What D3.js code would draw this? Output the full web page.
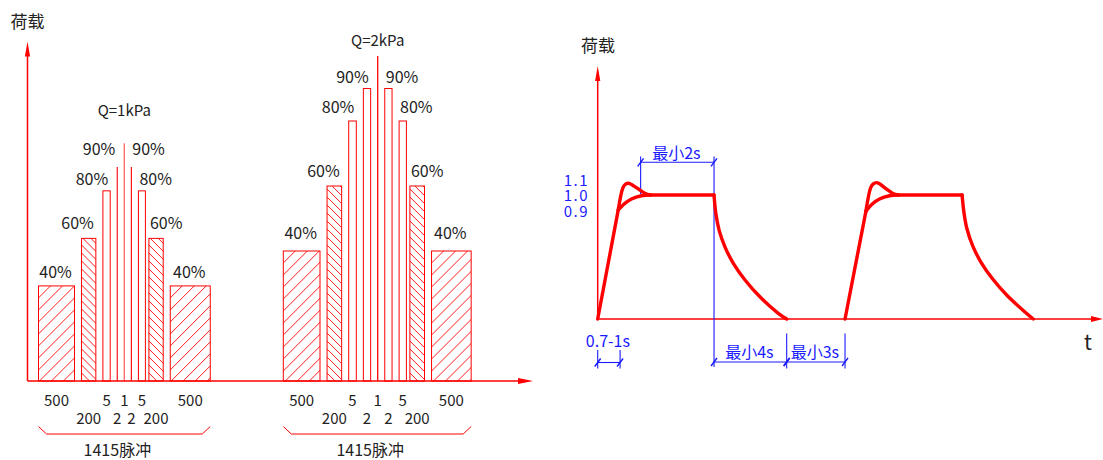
<!DOCTYPE html>
<html>
<head>
<meta charset="utf-8">
<script src="https://cdn.jsdelivr.net/npm/d3@7"></script>
<style>
  body { margin: 0; background: #fff; }
  svg text { font-family: "Noto Sans CJK SC", "Noto Sans", sans-serif; fill: #222; }
  svg text.blue { fill: #1a1aff; }
</style>
</head>
<body>
<svg id="chart" width="1103" height="460"></svg>
<script>
// ---- left chart: pulse load spectrum ----
const PULSES = [500, 200, 5, 2, 1, 2, 5, 200, 500];
const LEVELS = [40, 60, 80, 90, 100, 90, 80, 60, 40];
const GROUP_Q = ['Q=1kPa', 'Q=2kPa'];
const PULSE_TOTAL = '1415脉冲';
const Y_TITLE = '荷载';

// ---- right chart: load history (t in s, load relative to Q) ----
const RAMP_1 = [[0, 0], [0.56, 0.88]];
const OVERSHOOT_1 = [[0.56, 0.88], [0.69, 1.06], [0.76, 1.088], [0.84, 1.095], [0.92, 1.085], [1.1, 1.05], [1.3, 1.012], [1.43, 1.0]];
const SMOOTH_1 = [[0.56, 0.88], [0.74, 0.933], [0.92, 0.968], [1.19, 0.994], [1.43, 1.0]];
const HOLD_1 = [[1.43, 1.0], [3.17, 1.0]];
const DECAY_1 = [[3.17, 1.0], [3.22, 0.85], [3.31, 0.715], [3.47, 0.58], [3.7, 0.447], [4.02, 0.313], [4.42, 0.179], [4.92, 0.046], [5.15, 0]];

const RAMP_2 = [[6.74, 0], [7.31, 0.87]];
const OVERSHOOT_2 = [[7.31, 0.87], [7.44, 1.06], [7.51, 1.09], [7.6, 1.1], [7.68, 1.09], [7.86, 1.05], [8.06, 1.01], [8.19, 1.0]];
const SMOOTH_2 = [[7.31, 0.87], [7.49, 0.93], [7.68, 0.968], [7.95, 0.994], [8.19, 1.0]];
const HOLD_2 = [[8.19, 1.0], [9.93, 1.0]];
const DECAY_2 = [[9.93, 1.0], [9.98, 0.86], [10.06, 0.73], [10.22, 0.59], [10.45, 0.455], [10.77, 0.32], [11.17, 0.185], [11.65, 0.055], [11.87, 0]];

const LOAD_TICKS = [1.1, 1.0, 0.9];
const DIM_LABELS = ['最小2s', '0.7-1s', '最小4s', '最小3s'];
const DIM_FROM = [1.17, 0, 3.17, 5.15];
const DIM_TO = [3.17, 0.61, 5.15, 6.74];
const T_LABEL = 't';

const RED = '#ff0000';
const BLUE = '#1a1aff';
const svg = d3.select('#chart');
const defs = svg.append('defs');

function arrow(g, tip, dir, len, half) {
  const [x, y] = tip;
  const pts = dir === 'up'
    ? [[x, y], [x - half, y + len], [x + half, y + len]]
    : [[x, y], [x - len, y - half], [x - len, y + half]];
  g.append('path').attr('d', 'M' + pts.join('L') + 'Z').attr('fill', RED);
}

// ================= left chart =================
const BASE_L = 381;
const AXIS_X_L = 27.5;
const left = svg.append('g');

left.append('line').attr('x1', AXIS_X_L).attr('x2', AXIS_X_L).attr('y1', BASE_L).attr('y2', 52)
  .attr('stroke', RED).attr('stroke-width', 1.5);
arrow(left, [AXIS_X_L, 41.5], 'up', 15, 2.6);
left.append('line').attr('x1', AXIS_X_L).attr('x2', 522).attr('y1', BASE_L).attr('y2', BASE_L)
  .attr('stroke', RED).attr('stroke-width', 1.5);
arrow(left, [533, BASE_L], 'right', 15, 3);
left.append('text').attr('x', 27.5).attr('y', 28).attr('text-anchor', 'middle')
  .attr('font-size', 17).text(Y_TITLE);

const GROUP_X = [38.5, 283.3];
const PEAK_H = [237.7, 325];
const BAR_W = [[36, 14.3, 7.3, 0, 0, 0, 7, 14.3, 40], [36.7, 14.6, 7.6, 7.3, 0, 7.3, 7.3, 14.6, 39.6]];
const LABEL_GAP = [{40: 8, 60: 9, 80: 6, 90: 12}, {40: 12, 60: 9, 80: 8, 90: 6}];
const Q_GAP = [27, 10];
const HATCH_STEP = { 500: 12, 200: 8 };

GROUP_Q.forEach((q, g) => {
  const y = d3.scaleLinear().domain([0, 100]).range([BASE_L, BASE_L - PEAK_H[g]]);
  let cur = GROUP_X[g];
  const bars = PULSES.map((p, i) => {
    const w = BAR_W[g][i];
    const b = { p, v: LEVELS[i], i, x0: cur, x1: cur + w, w };
    cur += w + (i === 6 ? 3.5 : 7.05);
    return b;
  });
  const gg = left.append('g');

  // hatching, clipped to each hatched bar
  bars.filter(b => HATCH_STEP[b.p]).forEach(b => {
    const id = `clip-${g}-${b.i}`;
    const top = y(b.v), h = BASE_L - top;
    defs.append('clipPath').attr('id', id).append('rect')
      .attr('x', b.x0).attr('y', top).attr('width', b.w).attr('height', h);
    const step = HATCH_STEP[b.p];
    const offs = d3.range(-h, b.w + step, step);
    const hg = gg.append('g').attr('clip-path', `url(#${id})`)
      .attr('stroke', RED).attr('stroke-width', 0.9);
    hg.selectAll('line').data(offs).join('line')
      .attr('x1', k => b.x0 + k).attr('x2', k => b.x0 + k + h)
      .attr('y1', b.p === 500 ? BASE_L : top).attr('y2', b.p === 500 ? top : BASE_L);
  });

  gg.selectAll('rect.bar').data(bars.filter(b => b.w > 0)).join('rect')
    .attr('class', 'bar')
    .attr('x', b => b.x0).attr('y', b => y(b.v))
    .attr('width', b => b.w).attr('height', b => BASE_L - y(b.v))
    .attr('fill', 'none')
    .attr('stroke', RED).attr('stroke-width', 1);

  gg.selectAll('line.bar').data(bars.filter(b => b.w === 0)).join('line')
    .attr('class', 'bar')
    .attr('x1', b => b.x0).attr('x2', b => b.x0)
    .attr('y1', BASE_L).attr('y2', b => y(b.v))
    .attr('stroke', RED).attr('stroke-width', b => b.v === 100 ? 1.3 : 1.1)
    .attr('stroke-opacity', b => b.v === 100 && g === 0 ? 0.6 : 1);

  // percent labels
  gg.selectAll('text.pct').data(bars.filter(b => b.v !== 100)).join('text')
    .attr('class', 'pct').attr('font-size', 16)
    .attr('x', b => b.v === 40 ? (b.x0 + b.x1) / 2 - 1 : b.i < 4 ? b.x1 - 2 : b.x0 + 1)
    .attr('text-anchor', b => b.v === 40 ? 'middle' : b.i < 4 ? 'end' : 'start')
    .attr('y', b => y(b.v) - LABEL_GAP[g][b.v])
    .text(b => b.v + '%');

  const mid = bars[4];
  gg.append('text').attr('x', mid.x0).attr('y', y(mid.v) - Q_GAP[g])
    .attr('text-anchor', 'middle').attr('font-size', 15).text(q);

  // pulse counts, two staggered rows
  gg.selectAll('text.cnt').data(bars).join('text')
    .attr('class', 'cnt').attr('font-size', 15).attr('text-anchor', 'middle')
    .attr('x', b => (b.x0 + b.x1) / 2)
    .attr('y', b => b.i % 2 === 0 ? 405.5 : 423.5)
    .text(b => b.p);

  // brace
  const bx0 = bars[0].x0, bx1 = bars[8].x1;
  gg.append('path')
    .attr('d', `M${bx0},426.5 L${bx0 + 8},434 L${bx1 - 8},434 L${bx1},426.5`)
    .attr('fill', 'none').attr('stroke', RED).attr('stroke-width', 1);
  gg.append('text').attr('x', (bx0 + bx1) / 2 - 7).attr('y', 456)
    .attr('text-anchor', 'middle').attr('font-size', 16).text(PULSE_TOTAL);
});

// ================= right chart =================
const x = d3.scaleLinear().domain([0, 13.77]).range([597.7, 1103]);
const yL = d3.scaleLinear().domain([0, 1]).range([319, 195]);
const right = svg.append('g');

right.append('line').attr('x1', x(0)).attr('x2', x(0)).attr('y1', yL(0)).attr('y2', 76)
  .attr('stroke', RED).attr('stroke-width', 1.5);
arrow(right, [x(0), 66], 'up', 15, 2.6);
right.append('line').attr('x1', x(0)).attr('x2', 1094).attr('y1', yL(0)).attr('y2', yL(0))
  .attr('stroke', RED).attr('stroke-width', 1.5);
arrow(right, [1103, yL(0)], 'right', 12, 3);
right.append('text').attr('x', 598).attr('y', 52).attr('text-anchor', 'middle')
  .attr('font-size', 17).text(Y_TITLE);
right.append('text').attr('x', 1088).attr('y', 350).attr('text-anchor', 'middle')
  .attr('font-size', 21).text(T_LABEL);

// load tick labels (stacked close together)
const yTick = d3.scaleLinear().domain([0.9, 1.1]).range([216.5, 185.5]);
right.selectAll('text.tick').data(LOAD_TICKS).join('text')
  .attr('class', 'tick blue').attr('font-size', 15).attr('text-anchor', 'end')
  .attr('x', 589).attr('y', d => yTick(d))
  .attr('letter-spacing', 1.5)
  .text(d => d.toFixed(1));

// dimensions
const DIM_LAYOUT = [
  { y: 162.3, ty: 159, ext: [[156.5, 194], [156.5, 367]] },
  { y: 362.5, ty: 346.5, ext: [[350, 368.5], [350, 368.5]] },
  { y: 362, ty: 358.3, ext: [null, [333.5, 368.5]] },
  { y: 362, ty: 358.3, ext: [null, [333.5, 368.5]] }
];
const dimG = right.append('g').attr('stroke', BLUE).attr('stroke-width', 1.1);
DIM_LABELS.forEach((lab, k) => {
  const L = DIM_LAYOUT[k];
  const xa = x(DIM_FROM[k]), xb = x(DIM_TO[k]);
  dimG.append('line').attr('x1', xa).attr('x2', xb).attr('y1', L.y).attr('y2', L.y);
  [xa, xb].forEach((xx, j) => {
    dimG.append('line').attr('x1', xx - 3).attr('x2', xx + 3).attr('y1', L.y + 4).attr('y2', L.y - 4)
      .attr('stroke-width', 1.4);
    if (L.ext[j]) {
      dimG.append('line').attr('x1', xx).attr('x2', xx).attr('y1', L.ext[j][0]).attr('y2', L.ext[j][1]);
    }
  });
  right.append('text').attr('class', 'blue').attr('font-size', 16).attr('text-anchor', 'middle')
    .attr('x', (xa + xb) / 2 - 1).attr('y', L.ty).text(lab);
});

// load curves
const lineLin = d3.line().x(d => x(d[0])).y(d => yL(d[1]));
const lineCurve = d3.line().x(d => x(d[0])).y(d => yL(d[1])).curve(d3.curveCatmullRom.alpha(0.5));
const curveG = right.append('g').attr('fill', 'none').attr('stroke', RED)
  .attr('stroke-width', 3.4).attr('stroke-linejoin', 'round').attr('stroke-linecap', 'round');
[[RAMP_1, lineLin], [OVERSHOOT_1, lineCurve], [SMOOTH_1, lineCurve], [HOLD_1, lineLin], [DECAY_1, lineCurve],
 [RAMP_2, lineLin], [OVERSHOOT_2, lineCurve], [SMOOTH_2, lineCurve], [HOLD_2, lineLin], [DECAY_2, lineCurve]]
  .forEach(([pts, gen]) => curveG.append('path').attr('d', gen(pts)));
</script>
</body>
</html>
